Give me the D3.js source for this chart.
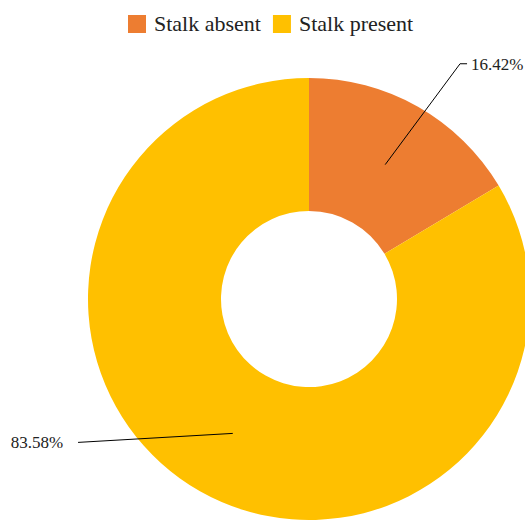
<!DOCTYPE html>
<html>
<head>
<meta charset="utf-8">
<script src="https://cdn.jsdelivr.net/npm/d3@7"></script>
<style>
  body { margin: 0; background: #fff; }
  svg text { font-family: "Liberation Serif", "DejaVu Serif", serif; fill: #222; }
</style>
</head>
<body>
<svg id="grafico"></svg>
<script>
// Dados
const categorias = ["Stalk absent", "Stalk present"];
const valores = [16.42, 83.58];
const rotulos = ["16.42%", "83.58%"];
const cores = ["#ED7D31", "#FFC000"];

const width = 525;
const height = 520;
const cx = 309, cy = 299;
const raioExterno = 221;
const raioInterno = 88;

const svg = d3.select("#grafico")
  .attr("width", width)
  .attr("height", height);

const pie = d3.pie().sort(null).value(d => d)(valores);
const arco = d3.arc().innerRadius(raioInterno).outerRadius(raioExterno);

const g = svg.append("g").attr("transform", `translate(${cx},${cy})`);

// Fatias
g.selectAll("path.fatia")
  .data(pie)
  .enter()
  .append("path")
  .attr("class", "fatia")
  .attr("d", arco)
  .attr("fill", (d, i) => cores[i]);

// Linhas dos rótulos
function polar(ang, r) {
  return [r * Math.sin(ang), -r * Math.cos(ang)];
}

pie.forEach((d, i) => {
  const c = arco.centroid(d);
  const meio = (d.startAngle + d.endAngle) / 2;
  let pontos, texto, ancora;
  if (Math.sin(meio) >= 0) {
    // lado direito: cotovelo e trecho horizontal
    const cot = polar(meio + 0.055, raioExterno * 1.265);
    pontos = [c, cot, [cot[0] + 7, cot[1]]];
    texto = [cot[0] + 11, cot[1] + 6];
    ancora = "start";
  } else {
    const fim = [-raioExterno * 1.045, c[1] + 9];
    pontos = [c, fim];
    texto = [fim[0] - 15, fim[1] + 6];
    ancora = "end";
  }
  g.append("path")
    .attr("d", d3.line()(pontos))
    .attr("fill", "none")
    .attr("stroke", "#000")
    .attr("stroke-width", 1);
  g.append("text")
    .attr("x", texto[0])
    .attr("y", texto[1])
    .attr("text-anchor", ancora)
    .attr("font-size", 17)
    .text(rotulos[i]);
});

// Legenda
const legenda = svg.append("g").attr("transform", "translate(128,15)");
let x = 0;
categorias.forEach((cat, i) => {
  const item = legenda.append("g").attr("transform", `translate(${x},0)`);
  item.append("rect")
    .attr("width", 18).attr("height", 18)
    .attr("fill", cores[i]);
  const t = item.append("text")
    .attr("x", 26).attr("y", 16)
    .attr("font-size", 22)
    .text(cat);
  x += 26 + t.node().getComputedTextLength() + 12;
});
</script>
</body>
</html>
